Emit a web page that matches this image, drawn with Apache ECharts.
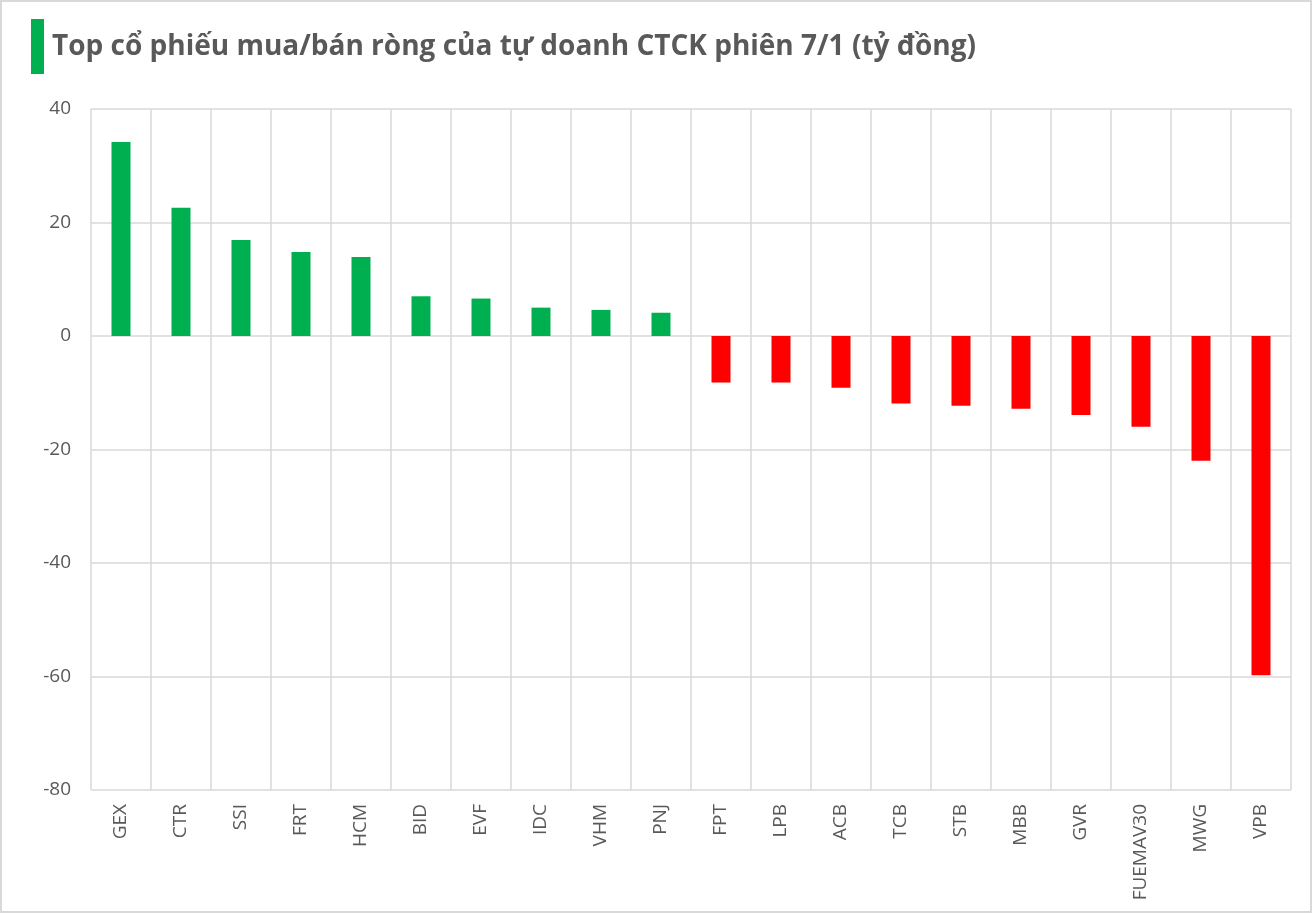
<!DOCTYPE html>
<html>
<head>
<meta charset="utf-8">
<script src="https://cdn.jsdelivr.net/npm/echarts@6/dist/echarts.min.js"></script>
<style>
html,body{margin:0;padding:0;background:#fff;}
#wrap{position:absolute;left:0;top:0;width:1308px;height:909px;border:2px solid #d9d9d9;background:#fff;}
#chart{position:absolute;left:-2px;top:-2px;width:1312px;height:913px;}
</style>
</head>
<body>
<div id="wrap"><div id="chart"></div></div>
<script>
var categories = ['GEX','CTR','SSI','FRT','HCM','BID','EVF','IDC','VHM','PNJ','FPT','LPB','ACB','TCB','STB','MBB','GVR','FUEMAV30','MWG','VPB'];
var values = [34.2, 22.6, 16.9, 14.8, 13.9, 7.0, 6.6, 5.0, 4.6, 4.1, -8.2, -8.2, -9.1, -11.9, -12.3, -12.8, -13.9, -16.0, -22.0, -59.8];
var yTicks = [-80, -60, -40, -20, 0, 20, 40];
var titleText = 'Top cổ phiếu mua/bán ròng của tự doanh CTCK phiên 7/1 (tỷ đồng)';

var chart = echarts.init(document.getElementById('chart'));
chart.setOption({
  animation: false,
  backgroundColor: 'transparent',
  graphic: [{
    type: 'rect', left: 31, top: 19, shape: {width: 13, height: 55}, style: {fill: '#00B050'}
  }],
  title: {
    text: titleText, left: 47, top: 28,
    textStyle: {fontFamily: 'Open Sans', fontWeight: 'bold', fontSize: 28, color: '#595959'}
  },
  grid: {left: 91, right: 21, top: 109, bottom: 123, containLabel: false},
  xAxis: {
    type: 'category', data: categories,
    axisLine: {show: false}, axisTick: {show: false},
    splitLine: {show: true, interval: 0, lineStyle: {color: '#d9d9d9', width: 1.5}},
    axisLabel: {rotate: 90, interval: 0, margin: 14, color: '#595959', fontSize: 19, fontFamily: 'Open Sans'}
  },
  yAxis: {
    type: 'value', min: yTicks[0], max: yTicks[yTicks.length - 1], interval: 20,
    axisLine: {show: false}, axisTick: {show: false},
    splitLine: {lineStyle: {color: '#d9d9d9', width: 1.5}},
    axisLabel: {color: '#595959', fontSize: 19, fontFamily: 'Open Sans', margin: 20}
  },
  series: [{
    type: 'bar', data: values, barWidth: 19,
    itemStyle: {color: function (p) { return p.value >= 0 ? '#00B050' : '#FF0000'; }}
  }]
});
</script>
</body>
</html>
